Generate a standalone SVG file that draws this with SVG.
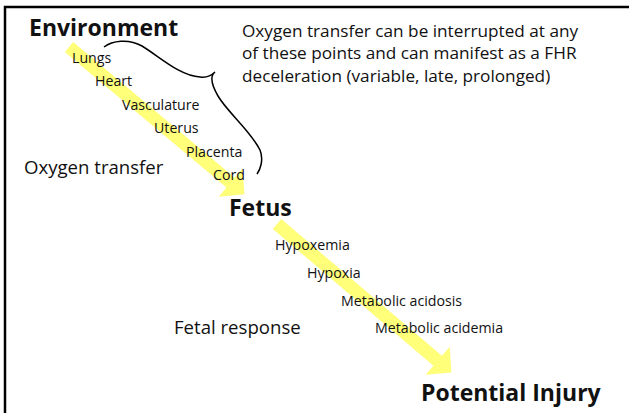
<svg xmlns="http://www.w3.org/2000/svg" width="629" height="413" viewBox="0 0 629 413">
<style>
.t{font-family:"Open Sans",Lato,sans-serif;fill:#111}
.h{font-weight:bold;font-size:23px}
.m{font-size:17.2px}
.l{font-size:18.6px}
.s{font-size:14.2px}
.arr{fill:#ffff7a}
.brace{fill:none;stroke:#000;stroke-width:1.5}
</style>
<defs>
<polygon id="arrowShape" points="0,-6.5 211,-6.5 211,-18.5 229,0 211,18.5 211,6.5 0,6.5"/>
</defs>
<rect x="5" y="7" width="640" height="420" fill="#fff" stroke="#000" stroke-width="2.5"/>
<g id="connectors">
<use href="#arrowShape" class="arr" transform="translate(69,47) rotate(40)"/>
<use href="#arrowShape" class="arr" transform="translate(277,224) rotate(40.4)"/>
<path class="brace" d="M104,47 C112,41 128,38 142,46 C160,57 180,76 200,77 C207,78 212,75 215,72 C210,76 211,84 218,96 C228,113 250,130 260,150 C264,160 260,170 257,174"/>
</g>
<g id="environment"><text class="t h" x="29" y="36">Environment</text></g>
<g id="note"><text class="t m" x="242" y="37">Oxygen transfer can be interrupted at any</text>
<text class="t m" x="242" y="59">of these points and can manifest as a FHR</text>
<text class="t m" x="242" y="82">deceleration (variable, late, prolonged)</text></g>
<g id="lungs"><text class="t s" x="72" y="63">Lungs</text></g>
<g id="heart"><text class="t s" x="95" y="86">Heart</text></g>
<g id="vasculature"><text class="t s" x="122" y="110">Vasculature</text></g>
<g id="uterus"><text class="t s" x="154" y="133">Uterus</text></g>
<g id="placenta"><text class="t s" x="186" y="157">Placenta</text></g>
<g id="cord"><text class="t s" x="213" y="180">Cord</text></g>
<g id="oxygen-transfer"><text class="t l" x="24" y="174">Oxygen transfer</text></g>
<g id="fetus"><text class="t h" x="229" y="216">Fetus</text></g>
<g id="hypoxemia"><text class="t s" x="275" y="250">Hypoxemia</text></g>
<g id="hypoxia"><text class="t s" x="307" y="278">Hypoxia</text></g>
<g id="metabolic-acidosis"><text class="t s" x="341" y="306">Metabolic acidosis</text></g>
<g id="metabolic-acidemia"><text class="t s" x="375" y="333">Metabolic acidemia</text></g>
<g id="fetal-response"><text class="t l" x="174" y="334">Fetal response</text></g>
<g id="potential-injury"><text class="t h" x="421" y="401">Potential Injury</text></g>
</svg>
